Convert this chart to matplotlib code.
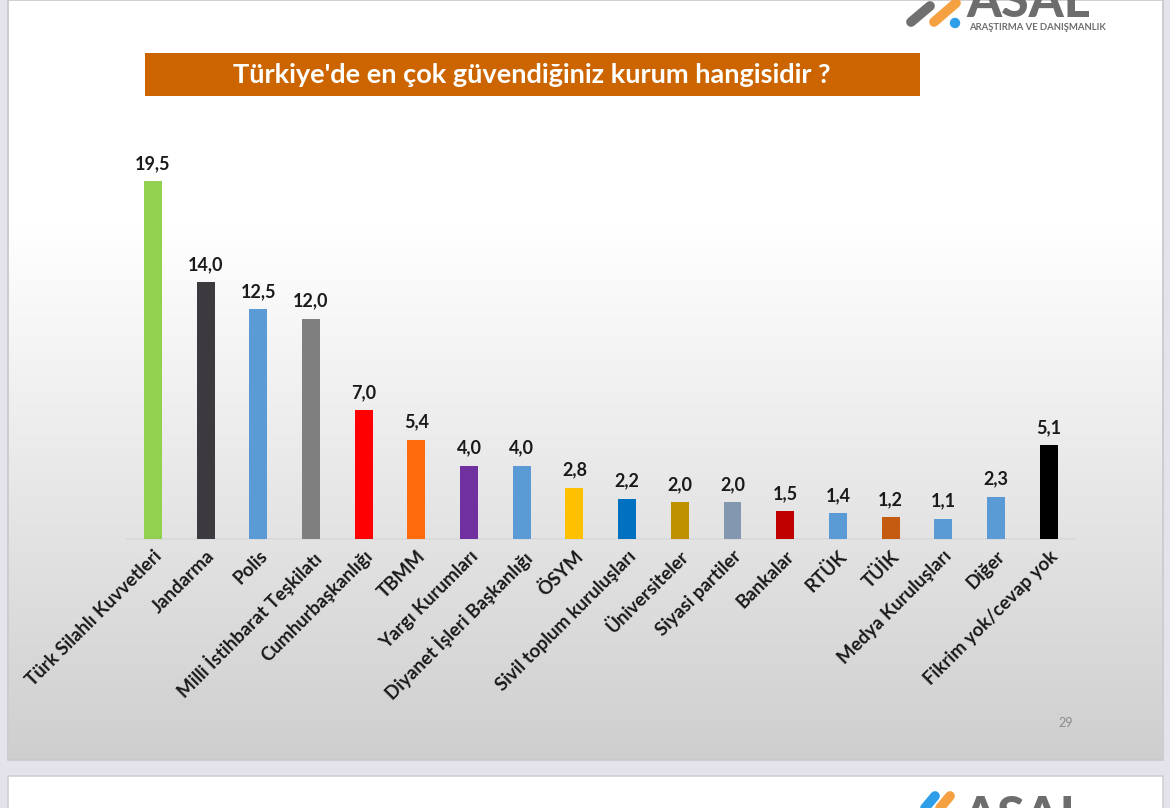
import numpy as np
import matplotlib.pyplot as plt
from matplotlib.patches import Rectangle, Circle

plt.rcParams['font.family'] = ['Lato', 'DejaVu Sans']

kurumlar = ["Türk Silahlı Kuvvetleri", "Jandarma", "Polis", "Milli İstihbarat Teşkilatı",
            "Cumhurbaşkanlığı", "TBMM", "Yargı Kurumları", "Diyanet İşleri Başkanlığı",
            "ÖSYM", "Sivil toplum kuruluşları", "Üniversiteler", "Siyasi partiler",
            "Bankalar", "RTÜK", "TÜİK", "Medya Kuruluşları", "Diğer", "Fikrim yok/cevap yok"]
oranlar = [19.5, 14.0, 12.5, 12.0, 7.0, 5.4, 4.0, 4.0, 2.8, 2.2, 2.0, 2.0, 1.5, 1.4, 1.2, 1.1, 2.3, 5.1]
renkler = ["#92d050", "#3d3a3f", "#5b9bd5", "#7f7f7f", "#ff0000", "#ff6a0d", "#7030a0", "#5b9bd5",
           "#ffc000", "#0070c0", "#bf9000", "#8497b0", "#c00000", "#5b9bd5", "#c55a11", "#5b9bd5",
           "#5b9bd5", "#000000"]
baslik = "Türkiye'de en çok güvendiğiniz kurum hangisidir ?"

W, H = 1170, 808
fig = plt.figure(figsize=(W / 100, H / 100), dpi=100)
fig.patch.set_facecolor("#e4e3ec")

# background (slide with vertical gradient)
bg = fig.add_axes([0, 0, 1, 1])
bg.set_xlim(0, W)
bg.set_ylim(H, 0)
bg.axis("off")
grad = np.linspace(0, 1, 256)
grad = np.clip((grad - 0.3) / 0.7, 0, 1)
cols = np.empty((256, 1, 3))
for i in range(3):
    cols[:, 0, i] = 1.0 - grad * (1.0 - 0.81)
bg.imshow(cols, extent=[9, 1162, 760, 0], aspect="auto", zorder=1)
bg.add_patch(Rectangle((8, 0), 1155, 760, fill=False, ec="#c8c8cc", lw=1.2, zorder=2))
bg.add_patch(Rectangle((8, 776), 1155, 40, fc="white", ec="#cfcfd6", lw=1.2, zorder=2))

# title box
bg.add_patch(Rectangle((145, 53), 775, 43, fc="#cc6500", ec="none", zorder=3))
bg.text(532, 75, baslik, color="white", fontsize=19.5, fontweight="bold",
        ha="center", va="center", zorder=4)

# logo (top right, cut by the screenshot edge)
bg.text(966, 17, "ASAL", color="#6d6d6d", fontsize=36, fontweight="black",
        ha="left", va="baseline", zorder=4)
bg.plot([911, 930], [22, 6], color="#707070", lw=7, solid_capstyle="round", zorder=4)
bg.plot([934, 956], [22, 3], color="#f5a142", lw=7, solid_capstyle="round", zorder=4)
bg.add_patch(Circle((955, 23), 4.5, color="#2f9ee8", zorder=5))
bg.text(969, 28, "ARAŞTIRMA VE DANIŞMANLIK", color="#6d6d6d", fontsize=6.8,
        fontweight="bold", ha="left", va="center", zorder=4)
# next slide logo peeking in at the bottom
bg.text(962, 832, "ASAL", color="#6d6d6d", fontsize=36, fontweight="black",
        ha="left", va="baseline", zorder=4)
bg.plot([925, 935], [808, 796], color="#2f9ee8", lw=7, solid_capstyle="round", zorder=4)
bg.plot([940, 950], [808, 796], color="#f5a142", lw=7, solid_capstyle="round", zorder=4)
bg.text(1066, 723, "29", color="#8c8c8c", fontsize=9, ha="center", va="center", zorder=4)

# chart
ax = fig.add_axes([126.6 / W, 1 - 539 / H, 948.4 / W, 385.6 / H])
ax.patch.set_alpha(0)
x = np.arange(len(kurumlar))
ax.bar(x, oranlar, width=0.34, color=renkler, zorder=3)
for xi, v in zip(x, oranlar):
    ax.text(xi, v + 0.5, f"{v:.1f}".replace(".", ","), ha="center", va="bottom",
            fontsize=13, fontweight="bold", color="#1a1a1a")
ax.set_xlim(-0.5, len(kurumlar) - 0.5)
ax.set_ylim(0, 21)
ax.set_yticks([])
ax.set_xticks(x)
ax.set_xticklabels(kurumlar, rotation=45, ha="right", va="top", rotation_mode="anchor",
                   fontsize=13.5, fontweight="bold", color="#1a1a1a")
ax.tick_params(axis="x", length=0, pad=6)
for s in ["top", "right", "left"]:
    ax.spines[s].set_visible(False)
ax.spines["bottom"].set_color("#d9d9d9")
ax.spines["bottom"].set_linewidth(1.2)

fig.savefig("out.png", dpi=100)
